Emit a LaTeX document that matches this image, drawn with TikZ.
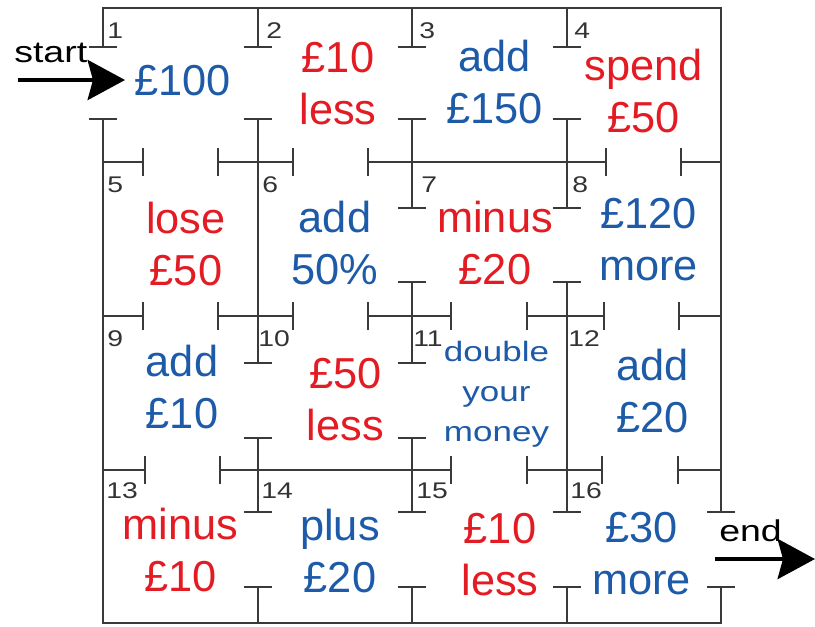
\documentclass[tikz,border=0pt]{standalone}
\usepackage{fontspec}
\setmainfont{Liberation Sans}
\newfontfamily\widesans[FakeStretch=1.25]{Liberation Sans}
\usetikzlibrary{arrows.meta}
\definecolor{mzred}{HTML}{E31B23}
\definecolor{mzblue}{HTML}{1D5AA8}
\definecolor{mzline}{HTML}{3A3A3A}
\definecolor{mznum}{HTML}{333333}
\begin{document}
\begin{tikzpicture}[x=0.75pt,y=-0.75pt,
  wall/.style={draw=mzline,line width=1.5pt,line cap=rect},
  tb/.style={wall,{Bar[width=21pt]}-{Bar[width=21pt]}},
  ts/.style={wall,{Bar[width=21pt]}-},
  te/.style={wall,-{Bar[width=21pt]}},
  lbl/.style={inner sep=0pt,align=center,font=\fontsize{32.5}{39}\selectfont},
  redlbl/.style={lbl,text=mzred},
  bluelbl/.style={lbl,text=mzblue},
  num/.style={inner sep=0pt,anchor=base west,text=mznum,font=\widesans\fontsize{17}{19}\selectfont},
  sidetext/.style={inner sep=0pt,anchor=base west,text=black,font=\widesans\fontsize{22.5}{26}\selectfont},
  bigarrow/.style={draw=black,line width=3pt,-{Stealth[length=28pt,width=30pt,inset=4pt]}}]
\useasboundingbox (0,0) rectangle (815,626);
\fill[white] (0,0) rectangle (815,626);
% outer frame
\draw[wall] (103,8) -- (721,8);
\draw[wall] (103,623) -- (721,623);
\draw[te] (103,8) -- (103,48);
\draw[ts] (103,118) -- (103,623);
\draw[te] (721,8) -- (721,513);
\draw[ts] (721,586) -- (721,623);
% vertical inner walls
\draw[te] (257.5,8) -- (257.5,48);
\draw[tb] (257.5,118) -- (257.5,364);
\draw[tb] (257.5,437) -- (257.5,513);
\draw[ts] (257.5,586) -- (257.5,623);
\draw[te] (412,8) -- (412,48);
\draw[tb] (412,118) -- (412,209);
\draw[tb] (412,281) -- (412,364);
\draw[tb] (412,437) -- (412,513);
\draw[ts] (412,586) -- (412,623);
\draw[te] (566.5,8) -- (566.5,48);
\draw[tb] (566.5,118) -- (566.5,209);
\draw[tb] (566.5,281) -- (566.5,513);
\draw[ts] (566.5,586) -- (566.5,623);
% horizontal inner walls
\draw[te] (103,162) -- (144,162);
\draw[tb] (217,162) -- (294,162);
\draw[tb] (367,162) -- (607,162);
\draw[ts] (680,162) -- (721,162);
\draw[te] (103,316) -- (144,316);
\draw[tb] (217,316) -- (294,316);
\draw[tb] (367,316) -- (452,316);
\draw[tb] (526,316) -- (605,316);
\draw[ts] (678,316) -- (721,316);
\draw[te] (103,470) -- (146,470);
\draw[tb] (219,470) -- (452,470);
\draw[tb] (526,470) -- (603,470);
\draw[ts] (677,470) -- (721,470);
% cell numbers
\node[num] (n1) at (107,38) {1};
\node[num] (n2) at (266,38) {2};
\node[num] (n3) at (419,38) {3};
\node[num] (n4) at (574,38) {4};
\node[num] (n5) at (107,192) {5};
\node[num] (n6) at (262,192) {6};
\node[num] (n7) at (421,192) {7};
\node[num] (n8) at (572,192) {8};
\node[num] (n9) at (107,346) {9};
\node[num] (n10) at (258,346) {10};
\node[num] (n11) at (413,346) {11};
\node[num] (n12) at (568,346) {12};
\node[num] (n13) at (106,498) {13};
\node[num] (n14) at (261,498) {14};
\node[num] (n15) at (416,498) {15};
\node[num] (n16) at (570,498) {16};
% cell labels
\node[bluelbl] (c1) at (182.5,81) {£100};
\node[redlbl] (c2) at (338,83.5) {£10\\less};
\node[bluelbl] (c3) at (494.5,82.5) {add\\£150};
\node[redlbl] (c4) at (643.5,91.5) {spend\\£50};
\node[redlbl] (c5) at (186,244) {lose\\£50};
\node[bluelbl] (c6) at (335,243) {add\\50\%};
\node[redlbl] (c7) at (495,243.5) {minus\\£20};
\node[bluelbl] (c8) at (648.5,240) {£120\\more};
\node[bluelbl] (c9) at (182,387.5) {add\\£10};
\node[redlbl] (c10) at (345.5,400) {£50\\less};
\node[bluelbl,font=\widesans\fontsize{21}{30}\selectfont] (c11) at (496.5,394.5) {double\\your\\money};
\node[bluelbl] (c12) at (652.5,391) {add\\£20};
\node[redlbl] (c13) at (180.5,550) {minus\\£10};
\node[bluelbl] (c14) at (340,551) {plus\\£20};
\node[redlbl] (c15) at (500,555) {£10\\less};
\node[bluelbl] (c16) at (641.5,554) {£30\\more};
% start and end
\node[sidetext] (starttext) at (14,62) {start};
\coordinate (startfrom) at (18,80);
\coordinate (startto) at (125,80);
\draw[bigarrow] (startfrom) -- (startto);
\node[sidetext] (endtext) at (719,541) {end};
\coordinate (endfrom) at (715,559);
\coordinate (endto) at (815,559);
\draw[bigarrow] (endfrom) -- (endto);
\end{tikzpicture}
\end{document}
